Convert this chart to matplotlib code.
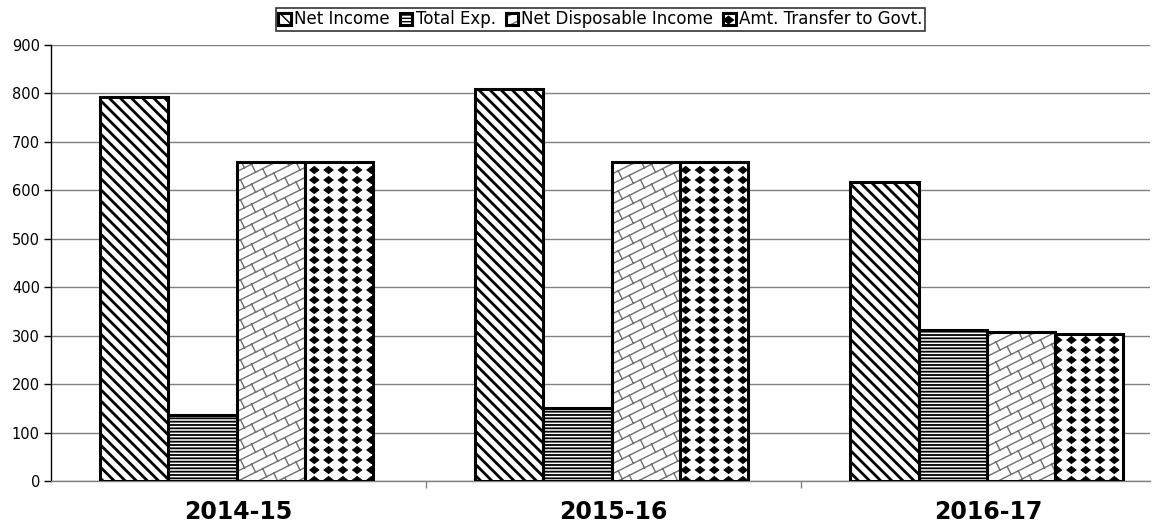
import matplotlib
matplotlib.use("Agg")
import matplotlib.pyplot as plt
import matplotlib.hatch as mhatch
from matplotlib.path import Path
import numpy as np

plt.rcParams['font.family'] = ['DejaVu Sans']

categories = ["2014-15", "2015-16", "2016-17"]
series_names = ["Net Income", "Total Exp.", "Net Disposable Income", "Amt. Transfer to Govt."]
net_income = [793, 810, 618]
total_exp = [136, 151, 312]
net_disposable = [659, 659, 308]
amt_transfer = [659, 659, 304]
yticks = [0, 100, 200, 300, 400, 500, 600, 700, 800, 900]


# ---- custom hatch textures (decoration only) ----
class DiamondHatch(mhatch.HatchPatternBase):
    """Filled diamonds on an aligned grid; triggered by 'O'."""
    ncols, nrows = 7, 10
    hw, hh = 0.048, 0.037

    def __init__(self, hatch, density):
        self.on = hatch.count('O') > 0
        self.num_shapes = (self.ncols + 1) * (self.nrows + 1) if self.on else 0
        self.num_vertices = self.num_shapes * 5

    def set_vertices_and_codes(self, vertices, codes):
        shape = np.array([[0, self.hh], [self.hw, 0], [0, -self.hh], [-self.hw, 0], [0, self.hh]])
        i = 0
        for r in range(self.nrows + 1):
            y = r / self.nrows
            for c in range(self.ncols + 1):
                x = c / self.ncols
                vertices[i:i + 5] = shape + [x, y]
                codes[i] = Path.MOVETO
                codes[i + 1:i + 4] = Path.LINETO
                codes[i + 4] = Path.CLOSEPOLY
                i += 5


class BrickHatch(mhatch.HatchPatternBase):
    """Diagonal brick texture; triggered by 'o'."""
    n = 10
    slope = 0.5
    L = 2.0 / 9.0

    def __init__(self, hatch, density):
        self.on = hatch.count('o') > 0
        self.segs = self._segments() if self.on else []
        self.num_vertices = len(self.segs) * 2

    def _segments(self):
        segs = []
        n, s, L = self.n, self.slope, self.L
        dc = 1.0 / n
        t = dc / (s + 1.0 / s)
        for k in range(-7, n + 2):
            c = k * dc
            segs.append(((-0.1, s * -0.1 + c), (1.1, s * 1.1 + c)))
            off = (k % 2) * L / 2
            xs = np.arange(-1.0, 2.0, L) + off
            for x0 in xs:
                y0 = s * x0 + c
                x1 = x0 - t
                y1 = y0 + t / s
                if -0.2 < x0 < 1.2 and -0.2 < y0 < 1.2:
                    segs.append(((x0, y0), (x1, y1)))
        return segs

    def set_vertices_and_codes(self, vertices, codes):
        for i, (a, b) in enumerate(self.segs):
            vertices[2 * i] = a
            vertices[2 * i + 1] = b
            codes[2 * i] = Path.MOVETO
            codes[2 * i + 1] = Path.LINETO


mhatch._hatch_types = [h for h in mhatch._hatch_types
                       if h not in (mhatch.LargeCircles, mhatch.SmallCircles)]
mhatch._hatch_types += [DiamondHatch, BrickHatch]

hatches = ['\\\\\\', '-----', 'o', 'O']
hatch_colors = ['black', 'black', '#707070', 'black']
hatch_lws = [2.0, 1.3, 1.0, 0.5]

values = [net_income, total_exp, net_disposable, amt_transfer]

fig = plt.figure(figsize=(11.61, 5.26), dpi=100)
ax = fig.add_axes([51/1161, 1-481/526, 1099/1161, (481-45)/526])

x = np.arange(len(categories))
bw = 0.182
handles = []
for i, (vals, h, hc, hlw, name) in enumerate(zip(values, hatches, hatch_colors, hatch_lws, series_names)):
    pos = x + (i - 1.5) * bw - 0.005
    with plt.rc_context({'hatch.linewidth': hlw}):
        fill = ax.bar(pos, vals, width=bw, facecolor='white', edgecolor=hc, hatch=h,
                      linewidth=0, zorder=3)
    outline = ax.bar(pos, vals, width=bw, facecolor='none', edgecolor='black',
                     linewidth=2.2, zorder=4)
    handles.append((fill[0], outline[0]))

ax.set_xlim(-0.5, 2.43)
ax.set_ylim(0, 900)
ax.set_yticks(yticks)
ax.set_yticklabels([str(v) for v in yticks], fontsize=10.5)
ax.yaxis.grid(True, color='#808080', linewidth=1.0, zorder=0)
ax.set_axisbelow(True)
for s in ['top', 'right']:
    ax.spines[s].set_visible(False)
ax.spines['left'].set_linewidth(1.0)
ax.spines['bottom'].set_linewidth(1.0)
ax.spines['bottom'].set_color('#808080')
ax.tick_params(axis='y', length=5, width=1, direction='out', pad=3)
ax.set_xticks(x)
ax.set_xticklabels(categories, fontsize=17, fontweight='bold')
ax.tick_params(axis='x', length=0, pad=14)
ax.set_xticks([0.5, 1.5], minor=True)
ax.tick_params(axis='x', which='minor', length=5, width=1, color='#808080')

leg = ax.legend(handles, series_names, loc='upper center', bbox_to_anchor=(0.5, 1.085),
                ncol=4, fontsize=12,
                frameon=True, fancybox=False, edgecolor='black', handlelength=0.75,
                handleheight=0.75, handletextpad=0.2, columnspacing=0.6,
                borderpad=0.15, borderaxespad=0)
leg.get_frame().set_linewidth(1.2)

fig.savefig("out.png", dpi=100, facecolor='white')
